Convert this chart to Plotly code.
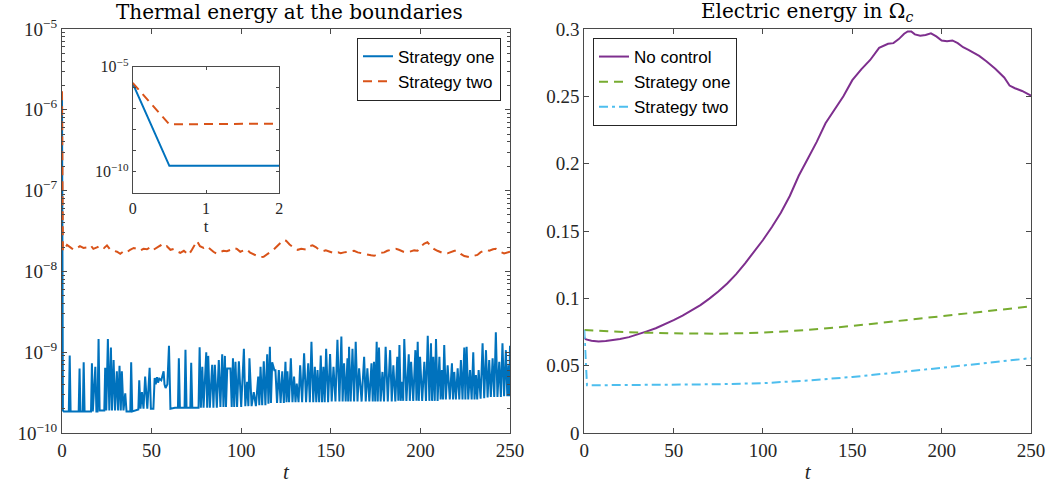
import plotly.graph_objects as go

W, H = 1063, 495

# ---------------- data: left panel (thermal energy at boundaries) ----------------
# Strategy one (values in units of 1e-10)
blue_t = [0, 0.5, 1, 3.8, 4.3, 4.8, 9.3, 9.8, 10.3, 11.6, 12.1, 12.6, 16.2, 16.7, 17.2, 18.6, 19.2, 19.8,
          20.4, 21.0, 23.6, 24.1, 24.7, 25.6, 26.4, 27.3, 27.9, 28.8, 29.6, 30.6, 31.3, 32.1, 32.8, 33.4,
          34.3, 35.3, 36.0, 38.1, 38.6, 39.2, 42.6, 43.1, 43.8, 44.6, 45.5, 46.4, 47.6, 48.9, 49.6, 51.0,
          51.7, 52.3, 53.0, 53.6, 54.3, 55.4, 56.7, 57.2, 57.8, 58.8, 59.7, 60.5,
          63, 64.7, 65.2, 65.8, 68.4, 68.9, 69.5, 71.6, 72.1, 72.7, 76.2, 76.8, 77.5, 78.3, 79.0, 80.5,
          81.0, 81.6, 82.5, 83.8, 84.5, 85.3, 86.4, 87.5, 88.4, 89.4, 90.1, 90.9, 91.5, 92.2, 93.2, 94.0,
          94.7, 95.4, 96.1, 96.8, 97.7, 98.7, 100.0, 101.5, 102.3, 103.3, 104.0, 104.6, 105.8, 107.0,
          108.2, 109.5, 110.1, 110.8, 111.7, 112.6, 113.5, 114.5, 115.2, 116.0, 116.6, 117.3, 118.5,
          119.1, 120.0, 121.0, 122.0, 122.9, 123.8, 124.7,
          125.3, 125.8, 126.7, 127.7, 128.6, 129.5, 130.3, 131.0, 132.0, 132.9, 134.0, 135.1, 136.2,
          137.4, 138.3, 139.2, 140.2, 141.1, 141.9, 142.6, 143.5, 144.4, 145.1, 145.9, 146.6, 147.4,
          148.5, 149.6, 150.5, 151.5, 152.6, 153.7, 154.8, 155.9, 156.6, 157.4, 158.3, 159.3, 159.7,
          160.2, 161.1, 162.1, 163.0, 163.9, 164.9, 165.8, 167.2, 168.6, 169.5, 170.4, 171.5, 172.7,
          173.4, 174.1, 174.8, 175.6, 176.2, 176.9, 177.8, 178.8, 179.7, 180.6, 181.8, 183.1, 184.0,
          184.9, 186.0, 187.1,
          187.7, 188.3, 189.0, 189.8, 190.4, 191.0, 192.2, 193.5, 194.1, 194.8, 196.0, 197.2, 197.8,
          198.5, 199.1, 199.8, 201.0, 202.2, 203.1, 204.1, 205.0, 205.9, 206.5, 207.2, 208.0, 208.7,
          209.6, 210.6, 211.3, 212.0, 212.6, 213.3, 214.2, 215.2, 216.4, 217.6, 218.2, 218.9, 219.8,
          220.8, 221.7, 222.6, 223.5, 224.5, 225.1, 225.8, 226.7, 227.7, 228.6, 229.5, 230.2, 231.0,
          231.7, 232.5, 233.6, 234.7, 235.6, 236.6, 237.5, 238.4, 239.3, 240.3, 241.2, 242.1, 243.0,
          244.0, 244.9, 245.8, 246.7, 247.7, 248.5, 249.2, 249.6, 250.0]
blue_v = [16000, 1.9, 1.85, 1.85, 9.1, 1.85, 1.85, 6.3, 1.85, 1.85, 7.5, 1.85, 1.85, 7.3, 1.85, 6.6, 1.85, 1.85,
          14.6, 1.9, 1.9, 6.4, 1.9, 14.6, 1.9, 11.4, 1.9, 8.0, 1.9, 5.8, 1.9, 6.8, 1.9, 5.8,
          1.9, 3.1, 1.85, 1.85, 7.5, 1.85, 1.95, 4.5, 2.0, 3.2, 2.0, 5.0, 2.0, 6.4, 2.0, 2.0,
          4.8, 4.0, 4.9, 4.2, 4.7, 4.5, 5.8, 4.0, 3.6, 4.0, 12.0, 2.0,
          2.05, 2.05, 8.4, 2.05, 2.05, 10.7, 2.05, 2.05, 7.4, 2.05, 2.05, 11.5, 2.05, 6.6, 2.05, 10.0,
          2.05, 9.0, 2.05, 7.0, 2.05, 7.0, 2.05, 8.0, 2.1, 9.4, 2.1, 9.0, 2.1, 6.3, 6.3, 6.3,
          2.1, 8.4, 2.1, 7.6, 2.1, 7.7, 2.1, 11.0, 2.15, 4.3, 2.15, 8.4, 2.15, 3.2,
          2.15, 5.0, 2.2, 6.6, 2.2, 7.7, 2.2, 9.4, 2.3, 11.7, 2.35, 7.5, 6.0,
          6.0, 2.35, 6.0, 2.35, 5.8, 2.35, 7.6,
          2.4, 5.8, 2.4, 8.4, 2.4, 5.0, 2.4, 4.1, 2.4, 6.9, 2.4, 9.7, 2.4,
          7.3, 2.4, 13.5, 2.4, 6.6, 2.4, 6.0, 2.4, 9.1, 2.4, 6.6, 2.4, 11.0,
          2.4, 9.5, 2.45, 6.6, 2.45, 14.2, 2.45, 15.6, 2.45, 7.3, 2.45, 8.4, 2.45,
          11.7, 2.45, 11.0, 2.45, 13.5, 2.45, 6.3, 2.45, 8.8, 2.45, 6.3, 2.45, 7.3,
          2.45, 7.6, 2.45, 13.5, 2.45, 11.4, 2.45, 5.7, 2.45, 11.7, 2.45, 10.6, 2.45,
          6.9, 2.45, 8.8,
          2.5, 12.3, 2.5, 4.3, 2.5, 14.6, 2.5, 9.4, 2.5, 7.6, 2.5, 10.6, 2.5,
          13.5, 2.5, 8.8, 2.5, 7.6, 2.5, 16.0, 2.5, 12.9, 2.5, 8.8, 2.5, 14.6,
          2.5, 8.8, 2.6, 6.0, 2.6, 12.3, 2.6, 6.9, 2.6, 7.3, 2.6, 5.7, 2.6,
          6.3, 2.6, 8.0, 2.6, 11.4, 2.6, 11.7, 2.6, 6.0, 2.6, 10.0, 2.6, 5.2,
          2.6, 6.0, 2.65, 12.9, 2.7, 10.6, 2.75, 8.0, 2.8, 8.4, 2.8, 17.6, 2.8,
          7.6, 2.8, 12.9, 2.85, 10.6, 2.85, 6.9, 2.85, 12.0]
blue_scale = 1e-10

# Strategy two (values in units of 1e-8)
orange_t = [0, 0.5, 1.5, 2.8, 4.5, 6.5, 8.3, 10, 12, 14, 16, 17.5, 19.5, 21.5, 23.5, 25.1, 27, 29, 30.7,
            32.5, 34.5, 36.2, 38, 40, 41.8, 43.5, 45.5, 47.4, 49.5, 51, 53, 55, 56.5, 58.5, 60.5, 62.5,
            64.1, 66, 68, 70.6, 72.5, 74, 75.3, 77, 79, 80.8, 82.5, 84.5, 86.4, 88, 90, 92, 94, 95.5,
            97.6, 99.5, 101, 103.1, 105, 106.9, 108.5, 110.5, 112.5, 114.5, 116.5, 118, 120, 121.5,
            123.6, 125, 127, 129.6, 131.5, 133.5, 136.1, 138, 139.8, 141.6, 143.5, 145.5, 147.2, 149.5,
            151.9, 154, 155.5, 157.4, 159.5, 161, 163, 165, 166.8, 168.6, 170.5, 172.5, 174.2, 176, 178,
            179.8, 181.5, 183.5, 186.3, 188, 190.5, 192.8, 194.5, 196.5, 198.4, 200, 202, 203.9, 205.5,
            207.5, 209.5, 211.5, 213.5, 215.1, 217, 219, 220.7, 222.5, 224.5, 227.2, 229.5, 231.8,
            233.5, 235, 236.5, 238.5, 240.5, 242.1, 244.5, 246.7, 248.5, 250]
orange_v = [170, 1.8, 1.9, 2.12, 2.0, 1.85, 1.93, 2.05, 1.95, 1.98, 2.1, 1.9, 1.98, 2.1, 1.95, 2.1, 1.85, 1.8, 1.75,
            1.65, 1.78, 1.72, 1.85, 1.95, 1.9, 1.8, 1.9, 1.88, 2.0, 1.85, 1.95, 2.1, 1.95, 2.05, 1.85, 1.9,
            1.78, 1.7, 1.8, 1.6, 1.85, 2.1, 2.38, 2.05, 1.95, 2.05, 1.9, 1.75, 1.65, 1.72, 1.8, 1.78, 1.85, 1.95,
            1.9, 1.75, 1.8, 1.88, 1.7, 1.62, 1.55, 1.5, 1.52, 1.62, 1.75, 1.85, 2.05, 2.2,
            2.45, 2.4, 2.15, 1.95, 1.85, 1.9, 1.87, 2.05, 2.1, 2.0, 1.85, 1.78, 1.82, 1.75,
            1.68, 1.72, 1.68, 1.72, 1.75, 1.8, 1.8, 1.72, 1.68, 1.67, 1.62, 1.58, 1.56, 1.62, 1.7,
            1.72, 1.8, 1.85, 1.9, 1.85, 1.75, 1.72, 1.78, 1.82, 1.8, 2.0, 2.2, 2.3, 2.1,
            1.9, 1.8, 1.72, 1.65, 1.67, 1.75, 1.8, 1.8, 1.65, 1.55, 1.5, 1.55, 1.6,
            1.72, 1.8, 1.85, 1.8, 1.88, 1.9, 1.75, 1.67, 1.7, 1.75]
orange_scale = 1e-8

# inset (first two time units)
inset_t = [0, 0.5, 1, 1.5, 2]
inset_one = [1.6e-6, 1.9e-10, 1.9e-10, 1.9e-10, 1.9e-10]
inset_two = [1.7e-6, 1.8e-8, 1.85e-8, 1.9e-8, 1.95e-8]

# ---------------- data: right panel (electric energy) ----------------
nc_t = [0, 1, 4, 8, 12, 16, 20, 25, 30, 35, 40, 45, 50, 55, 60, 65, 70, 75, 80, 85, 90, 95, 100, 105, 110,
        115, 120, 125, 130, 135, 140, 145, 150, 155, 160, 165, 170, 173, 176, 179, 181, 183, 185, 188, 191,
        194, 197, 200, 203, 206, 209, 212, 215, 218, 221, 225, 230, 235, 238, 241, 245, 250]
nc_v = [0.0705, 0.0695, 0.0685, 0.068, 0.0683, 0.069, 0.0698, 0.0712, 0.0732, 0.0755, 0.0778, 0.0805, 0.0838,
        0.0872, 0.0908, 0.0950, 0.0998, 0.1050, 0.1110, 0.1180, 0.1260, 0.1345, 0.1433, 0.1530, 0.1635,
        0.1760, 0.1910, 0.2035, 0.2160, 0.2300, 0.2400, 0.2500, 0.2620, 0.2700, 0.2770, 0.2860, 0.2890,
        0.2895, 0.2925, 0.2965, 0.2982, 0.2982, 0.2960, 0.2950, 0.2955, 0.2968, 0.2945, 0.2915, 0.2910,
        0.2915, 0.2895, 0.2865, 0.2845, 0.2825, 0.2800, 0.2760, 0.2705, 0.2640, 0.2580, 0.2560, 0.2540,
        0.2505]
s1_t = [0, 10, 25, 50, 75, 100, 125, 150, 175, 200, 225, 250]
s1_v = [0.0765, 0.0757, 0.0748, 0.0740, 0.0737, 0.0745, 0.0765, 0.0795, 0.0830, 0.0867, 0.0900, 0.0940]
s2_t = [0, 1.5, 10, 25, 50, 75, 100, 125, 150, 175, 200, 225, 250]
s2_v = [0.0765, 0.0355, 0.0355, 0.0356, 0.0358, 0.0362, 0.0370, 0.0390, 0.0416, 0.0448, 0.0484, 0.0520, 0.0556]

x_ticks = [0, 50, 100, 150, 200, 250]
left_decades = [-10, -9, -8, -7, -6, -5]
right_ticks = [0, 0.05, 0.1, 0.15, 0.2, 0.25, 0.3]
right_ticklabels = ["0", "0.05", "0.1", "0.15", "0.2", "0.25", "0.3"]

# ---------------- styling ----------------
C_BLUE, C_ORANGE = "#0072BD", "#D95319"
C_PURPLE, C_GREEN, C_CYAN = "#7E2F8E", "#77AC30", "#4DBEEE"
AX = "#4a4a4a"
SERIF = "Liberation Serif, Times New Roman, serif"
TSERIF = "DejaVu Serif, serif"
SANS = "Liberation Sans, Arial, sans-serif"

def px_x(p):
    # page pixel -> paper fraction
    return p / W

def px_y(p):
    return 1 - p / H

fig = go.Figure()

fig.add_trace(go.Scatter(x=blue_t, y=[v * blue_scale for v in blue_v], mode="lines",
                         line=dict(color=C_BLUE, width=2), name="Strategy one",
                         xaxis="x", yaxis="y", legend="legend"))
fig.add_trace(go.Scatter(x=orange_t, y=[v * orange_scale for v in orange_v], mode="lines",
                         line=dict(color=C_ORANGE, width=2, dash="9px,6px"), name="Strategy two",
                         xaxis="x", yaxis="y", legend="legend"))

fig.add_trace(go.Scatter(x=inset_t, y=inset_one, mode="lines", line=dict(color=C_BLUE, width=2),
                         showlegend=False, xaxis="x3", yaxis="y3"))
fig.add_trace(go.Scatter(x=inset_t, y=inset_two, mode="lines",
                         line=dict(color=C_ORANGE, width=2, dash="9px,6px"),
                         showlegend=False, xaxis="x3", yaxis="y3"))

fig.add_trace(go.Scatter(x=nc_t, y=nc_v, mode="lines", line=dict(color=C_PURPLE, width=2),
                         name="No control", xaxis="x2", yaxis="y2", legend="legend2"))
fig.add_trace(go.Scatter(x=s1_t, y=s1_v, mode="lines", line=dict(color=C_GREEN, width=2, dash="9px,6px"),
                         name="Strategy one", xaxis="x2", yaxis="y2", legend="legend2"))
fig.add_trace(go.Scatter(x=s2_t, y=s2_v, mode="lines",
                         line=dict(color=C_CYAN, width=2, dash="9px,4px,3px,4px"),
                         name="Strategy two", xaxis="x2", yaxis="y2", legend="legend2"))

common = dict(showline=True, linecolor=AX, linewidth=1, mirror="ticks", ticks="inside",
              ticklen=5, tickcolor=AX, tickwidth=1, showgrid=False, zeroline=False, automargin=False,
              tickfont=dict(family=SERIF, size=19, color="#262626"))
inset_common = {**common, "ticklen": 3, "tickfont": dict(family=SERIF, size=16, color="#262626")}

minor_left = [k * 10.0 ** n for n in range(-10, -5) for k in range(2, 10)]

fig.update_layout(
    width=W, height=H, margin=dict(l=0, r=0, t=0, b=0, pad=0, autoexpand=False),
    paper_bgcolor="white", plot_bgcolor="white",
    xaxis=dict(domain=[px_x(62), px_x(510)], range=[0, 250], anchor="y",
               tickvals=x_ticks, ticklabelstandoff=0,
               title=dict(text="<i>t</i>", font=dict(family=SERIF, size=21, color="#262626"), standoff=4),
               **common),
    yaxis=dict(domain=[px_y(433), px_y(29)], type="log", range=[-10, -5], anchor="x",
               tickvals=[10.0 ** d for d in left_decades],
               ticktext=["10<sup>\u2212%d</sup>" % (-d) for d in left_decades],
               minor=dict(ticks="inside", ticklen=3, tickcolor=AX, tickvals=minor_left, showgrid=False),
               **common),
    xaxis2=dict(domain=[px_x(584.3), px_x(1031)], range=[0, 250], anchor="y2",
                tickvals=x_ticks, ticklabelstandoff=0,
                title=dict(text="<i>t</i>", font=dict(family=SERIF, size=21, color="#262626"), standoff=4),
                **common),
    yaxis2=dict(domain=[px_y(433), px_y(29)], range=[0, 0.3], anchor="x2",
                tickvals=right_ticks, ticktext=right_ticklabels, **common),
    xaxis3=dict(domain=[px_x(132.7), px_x(279.3)], range=[0, 2], anchor="y3",
                tickvals=[0, 1, 2], ticklabelstandoff=1,
                title=dict(text="t", font=dict(family=SERIF, size=17, color="#262626"), standoff=0),
                **inset_common),
    yaxis3=dict(domain=[px_y(192.7), px_y(66.7)], type="log", range=[-11, -5], anchor="x3",
                tickvals=[10.0 ** d for d in range(-11, -4)],
                ticktext=["", "10<sup>\u221210</sup>", "", "", "", "", "10<sup>\u22125</sup>"],
                **inset_common),
    legend=dict(x=px_x(501), xanchor="right", y=px_y(37.7), yanchor="top",
                bgcolor="white", bordercolor="#262626", borderwidth=1,
                font=dict(family=SANS, size=17, color="#000000"), tracegroupgap=0,
                itemwidth=30),
    legend2=dict(x=px_x(593), xanchor="left", y=px_y(38), yanchor="top",
                 bgcolor="white", bordercolor="#262626", borderwidth=1,
                 font=dict(family=SANS, size=17, color="#000000"), tracegroupgap=0,
                 itemwidth=30),
    annotations=[
        dict(text="Thermal energy at the boundaries", x=px_x(289.5), y=px_y(12), xref="paper", yref="paper",
             xanchor="center", yanchor="middle", showarrow=False,
             font=dict(family=TSERIF, size=20, color="#000000")),
        dict(text="Electric energy in \u03a9<sub><i>c</i></sub>", x=px_x(807), y=px_y(12), xref="paper",
             yref="paper", xanchor="center", yanchor="middle", showarrow=False,
             font=dict(family=TSERIF, size=20, color="#000000")),
    ],
)

# the page's default 8px body margin would shift the figure; remove it so the figure fills the window
fig.write_html("out.html", config={"displayModeBar": False},
               post_script="document.body.style.margin='0px';")
